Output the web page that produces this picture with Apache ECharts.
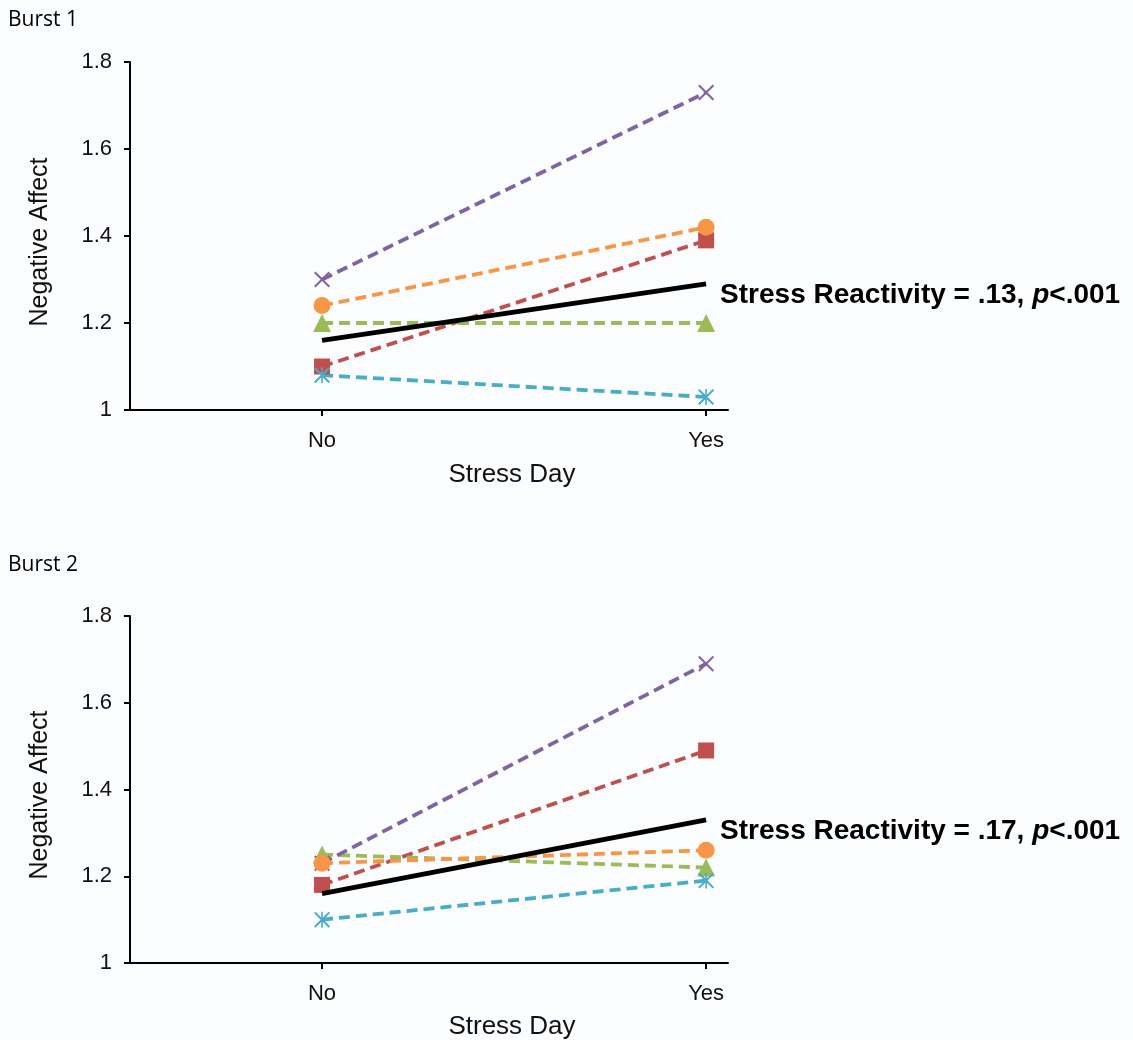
<!DOCTYPE html>
<html><head><meta charset="utf-8">
<script src="https://cdn.jsdelivr.net/npm/echarts@6/dist/echarts.min.js"></script>
<style>html,body{margin:0;padding:0;background:#fbfcfe}#c{width:1133px;height:1040px}</style>
</head><body><div id="c"></div>
<script>
const categories = ['No', 'Yes'];
const burstTitles = ['Burst 1', 'Burst 2'];
const reactivityText = ['.13', '.17'];
// Burst 1 values [No, Yes]
const b1Average = [1.16, 1.29];
const b1Red = [1.10, 1.39];
const b1Green = [1.20, 1.20];
const b1Purple = [1.30, 1.73];
const b1Cyan = [1.08, 1.03];
const b1Orange = [1.24, 1.42];
// Burst 2 values [No, Yes]
const b2Average = [1.16, 1.33];
const b2Red = [1.18, 1.49];
const b2Green = [1.25, 1.22];
const b2Purple = [1.23, 1.69];
const b2Cyan = [1.10, 1.19];
const b2Orange = [1.23, 1.26];

const X_SYM = 'path://M0,9 L9,0 L50,41 L91,0 L100,9 L59,50 L100,91 L91,100 L50,59 L9,100 L0,91 L41,50 Z';
const STAR_SYM = 'path://M45,0 L55,0 L55,100 L45,100 Z M0,9 L9,0 L50,41 L91,0 L100,9 L59,50 L100,91 L91,100 L50,59 L9,100 L0,91 L41,50 Z';

const font = '"Liberation Sans"';
const grids = [
  {left: 130, top: 62, width: 598, height: 348},
  {left: 130, top: 616, width: 598, height: 347}
];
const panels = [
  {avg: b1Average, red: b1Red, green: b1Green, purple: b1Purple, cyan: b1Cyan, orange: b1Orange},
  {avg: b2Average, red: b2Red, green: b2Green, purple: b2Purple, cyan: b2Cyan, orange: b2Orange}
];
const xVals = categories.map((c, i) => i + 1);
function pts(arr) { return arr.map((v, i) => [xVals[i], v]); }

const xAxes = [], yAxes = [], series = [], graphics = [];
grids.forEach((g, gi) => {
  xAxes.push({
    type: 'value', gridIndex: gi, min: 0.5, max: 2.057,
    axisLine: {show: true, lineStyle: {color: '#000', width: 2}},
    axisTick: {show: true, customValues: xVals, length: 6, lineStyle: {color: '#000', width: 2}},
    axisLabel: {customValues: xVals, formatter: v => categories[Math.round(v) - 1] || '',
      fontFamily: font, fontSize: 22, color: '#111', margin: 20},
    splitLine: {show: false}
  });
  yAxes.push({
    type: 'value', gridIndex: gi, min: 1, max: 1.8, interval: 0.2,
    axisLine: {show: true, lineStyle: {color: '#000', width: 2}},
    axisTick: {show: true, length: 6, lineStyle: {color: '#000', width: 2}},
    axisLabel: {fontFamily: font, fontSize: 22, color: '#111', margin: 18,
      formatter: v => String(Math.round(v * 10) / 10)},
    splitLine: {show: false}
  });
  const p = panels[gi];
  const dashed = (data, color, symbol, size) => ({
    type: 'line', xAxisIndex: gi, yAxisIndex: gi, data: pts(data),
    symbol, symbolSize: size, showSymbol: true,
    lineStyle: {color, width: 3.8, type: [11, 6]},
    itemStyle: {color, borderWidth: 0},
    z: 3, animation: false, silent: true
  });
  series.push(dashed(p.red, '#C0504D', 'rect', 16));
  series.push(dashed(p.green, '#9BBB59', 'triangle', 18));
  series.push(dashed(p.purple, '#8064A2', X_SYM, 16));
  series.push(dashed(p.cyan, '#4BACC6', STAR_SYM, 16));
  series.push(dashed(p.orange, '#F79646', 'circle', 17));
  series.push({
    type: 'line', xAxisIndex: gi, yAxisIndex: gi, data: pts(p.avg),
    symbol: 'none', lineStyle: {color: '#000', width: 5},
    z: 5, animation: false, silent: true,
    endLabel: {show: true, distance: 14, offset: [0, 11],
      formatter: '{b|Stress Reactivity = ' + reactivityText[gi] + ', }{i|p}{b|<.001}',
      rich: {
        b: {fontFamily: font, fontSize: 28, fontWeight: 'bold', color: '#000'},
        i: {fontFamily: font, fontSize: 28, fontWeight: 'bold', fontStyle: 'italic', color: '#000'}
      }}
  });
  graphics.push({
    type: 'text', x: 512, y: gi === 0 ? 475 : 1027,
    style: {text: 'Stress Day', font: '26px "Liberation Sans"', fill: '#111', textAlign: 'center', textVerticalAlign: 'middle'}
  });
  graphics.push({
    type: 'text', x: 40, y: gi === 0 ? 242 : 795, rotation: Math.PI / 2,
    style: {text: 'Negative Affect', font: '25px "Liberation Sans"', fill: '#111', textAlign: 'center', textVerticalAlign: 'middle'}
  });
  graphics.push({
    type: 'text', x: 8, y: gi === 0 ? 20 : 565,
    style: {text: burstTitles[gi], font: '21px "Open Sans"', fill: '#000', textAlign: 'left', textVerticalAlign: 'middle'}
  });
});

const chart = echarts.init(document.getElementById('c'), null, {renderer: 'canvas'});
chart.setOption({
  backgroundColor: '#fbfcfe',
  animation: false,
  grid: grids,
  xAxis: xAxes,
  yAxis: yAxes,
  series,
  graphic: graphics
});
</script></body></html>
